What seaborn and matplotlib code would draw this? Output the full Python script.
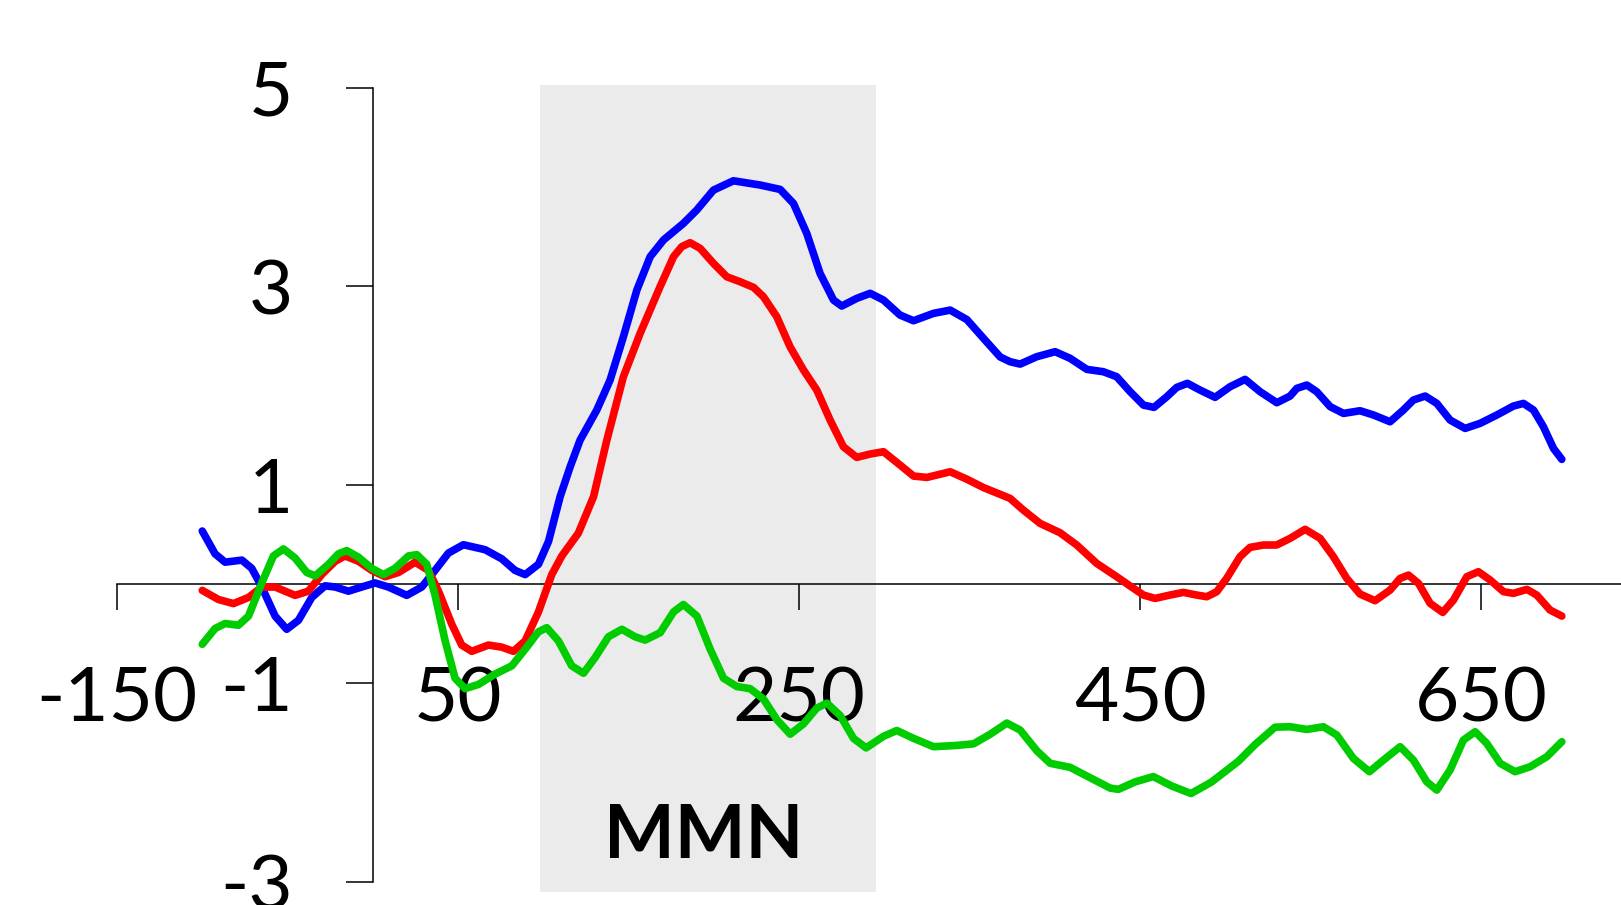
import matplotlib
matplotlib.use("Agg")
import matplotlib.pyplot as plt
import pandas as pd
import seaborn as sns

# ---------------- data ----------------
blue_t = [-100, -92.5, -86.6, -76.8, -71, -65.1, -57.3, -50.5, -43.6, -35.8,
          -28, -22.1, -14.3, -6.5, 1.3, 9.1, 19.9, 28.7, 36.5, 44.3,
          53.1, 65.8, 75.6, 83.4, 89.3, 97.1, 103, 109.8, 115.7, 121.5,
          131.3, 139.1, 146.9, 154.8, 162.6, 170.4, 182.1, 189.9, 199.7, 211.4,
          227.1, 238.8, 246.6, 254.4, 262.2, 270.1, 274.9, 283.7, 291.6, 299.4,
          309.1, 317, 328.7, 338.5, 348.3, 358, 367.8, 373.6, 379.5, 389.2,
          400, 408.8, 418.6, 428.3, 436.1, 444, 451.8, 458, 465.5, 471.3,
          477.6, 485, 493.8, 502.6, 511.4, 520.2, 530, 537.8, 541.7, 547.6,
          553.4, 561.3, 569.1, 578.8, 586.7, 596.4, 604.2, 610.1, 617, 623.8,
          631.6, 640.4, 649.2, 659, 668.7, 674.6, 680.5, 686.3, 692.2, 697.1]
blue_v = [0.535, 0.305, 0.221, 0.242, 0.159, -0.029, -0.322, -0.455, -0.364, -0.134,
          -0.017, -0.029, -0.071, -0.029, 0.012, -0.029, -0.113, -0.029, 0.139, 0.313,
          0.397, 0.347, 0.255, 0.138, 0.096, 0.200, 0.430, 0.881, 1.183, 1.451,
          1.754, 2.056, 2.493, 2.963, 3.299, 3.467, 3.635, 3.769, 3.970, 4.064,
          4.021, 3.977, 3.836, 3.534, 3.131, 2.862, 2.802, 2.879, 2.930, 2.862,
          2.711, 2.654, 2.728, 2.761, 2.665, 2.477, 2.289, 2.241, 2.217, 2.291,
          2.342, 2.275, 2.164, 2.140, 2.090, 1.939, 1.804, 1.781, 1.888, 1.982,
          2.023, 1.955, 1.882, 1.989, 2.063, 1.939, 1.828, 1.895, 1.972, 2.006,
          1.939, 1.788, 1.720, 1.747, 1.704, 1.636, 1.754, 1.855, 1.895, 1.821,
          1.653, 1.569, 1.620, 1.704, 1.794, 1.821, 1.754, 1.586, 1.368, 1.257]

red_t = [-100, -90.5, -81.7, -72.9, -65.1, -57.3, -45.6, -37.8, -30, -22.1,
         -16.3, -8.4, -0.6, 7.2, 15, 24.8, 32.6, 38.5, 46.3, 52.1,
         58, 67.8, 75.6, 82.4, 89.3, 97.1, 104.9, 110.8, 120.5, 129.4,
         137.2, 146.9, 156.7, 168.4, 176.3, 181.1, 186, 191.9, 199.7, 207.5,
         215.3, 223.2, 229, 236.8, 244.6, 252.5, 260.3, 268.1, 275.9, 283.7,
         291.6, 299.4, 309.1, 317, 324.8, 338.5, 348.3, 358, 373.6, 381.4,
         391.2, 402.9, 412.7, 424.4, 436.1, 444, 451.8, 458.6, 467.4, 475.2,
         483, 488.9, 494.8, 500.6, 508.4, 514.3, 522.1, 529.9, 537.8, 546.6,
         555.4, 563.2, 571, 578.8, 587.6, 596.4, 602.3, 607.2, 613.1, 619.9,
         627.3, 633.6, 641.4, 648.2, 655.1, 662.9, 668.7, 676.6, 682.4, 690.2,
         697.1]
red_v = [-0.063, -0.155, -0.196, -0.134, -0.029, -0.029, -0.113, -0.071, 0.096, 0.230,
         0.284, 0.230, 0.138, 0.075, 0.117, 0.221, 0.138, -0.071, -0.405, -0.614,
         -0.677, -0.614, -0.635, -0.677, -0.572, -0.280, 0.096, 0.284, 0.514, 0.881,
         1.451, 2.090, 2.526, 2.997, 3.299, 3.400, 3.440, 3.383, 3.232, 3.097,
         3.047, 2.990, 2.896, 2.695, 2.392, 2.157, 1.955, 1.653, 1.384, 1.277,
         1.311, 1.334, 1.200, 1.089, 1.075, 1.132, 1.057, 0.973, 0.864, 0.746,
         0.612, 0.518, 0.394, 0.209, 0.075, -0.019, -0.110, -0.144, -0.110, -0.083,
         -0.110, -0.127, -0.076, 0.058, 0.276, 0.370, 0.394, 0.394, 0.461, 0.552,
         0.461, 0.276, 0.058, -0.100, -0.167, -0.060, 0.058, 0.091, 0.007, -0.194,
         -0.285, -0.160, 0.075, 0.125, 0.041, -0.076, -0.093, -0.053, -0.110, -0.261,
         -0.322]

green_t = [-100, -92.5, -86.6, -78.8, -72.9, -65.1, -58.3, -52.4, -45.6, -38.7,
           -33.8, -26, -20.2, -15.3, -8.4, -0.6, 6.2, 13, 20.9, 25.8,
           31.6, 36.5, 42.4, 48.2, 54.1, 61.9, 71.7, 81.5, 89.3, 97.1,
           102, 108.8, 116.6, 123.5, 130.3, 138.1, 146, 153.8, 159.6, 168.5,
           176.3, 182.1, 190, 197.8, 205.6, 213.4, 221.2, 229, 236.9, 244.7,
           252.5, 260.3, 266.2, 274, 281.8, 289.2, 299.4, 307.2, 317, 328.7,
           342.4, 352.2, 362, 371.7, 379.5, 389.3, 397.1, 408.8, 420.6, 432.3,
           437.1, 446.9, 457.6, 468.4, 479.7, 491.8, 507.5, 517.2, 529, 537.8,
           547.6, 557.3, 565.2, 574.9, 584.3, 592.5, 602.3, 610.1, 617.9, 623.8,
           631.6, 639.4, 646.3, 653.1, 661, 669.7, 678.5, 688.3, 697.1]
green_v = [-0.606, -0.447, -0.397, -0.414, -0.322, 0.012, 0.284, 0.355, 0.263, 0.117,
           0.083, 0.200, 0.305, 0.338, 0.271, 0.159, 0.096, 0.159, 0.284, 0.297,
           0.200, -0.113, -0.572, -0.948, -1.053, -1.011, -0.906, -0.823, -0.656, -0.480,
           -0.439, -0.572, -0.823, -0.898, -0.740, -0.531, -0.455, -0.531, -0.564, -0.489,
           -0.280, -0.205, -0.322, -0.656, -0.948, -1.032, -1.053, -1.157, -1.366, -1.512,
           -1.408, -1.249, -1.199, -1.324, -1.554, -1.650, -1.533, -1.475, -1.554, -1.638,
           -1.625, -1.609, -1.512, -1.400, -1.470, -1.679, -1.805, -1.846, -1.951, -2.055,
           -2.068, -1.993, -1.939, -2.034, -2.110, -1.993, -1.784, -1.617, -1.441, -1.437,
           -1.464, -1.437, -1.521, -1.756, -1.890, -1.773, -1.638, -1.773, -1.991, -2.075,
           -1.873, -1.571, -1.487, -1.605, -1.806, -1.890, -1.840, -1.739, -1.588]

series_names = ["blue", "red", "green"]
series_colors = ["#0000FF", "#FF0000", "#00CC00"]
x_ticks = [-150, 50, 250, 450, 650]
x_tick_labels = ["-150", "50", "250", "450", "650"]
y_ticks = [-3, -1, 1, 3, 5]
y_tick_labels = ["-3", "-1", "1", "3", "5"]
mmn_window = (98, 295)
mmn_label = "MMN"

# ---------------- build table ----------------
frames = []
for name, t, v in zip(series_names, [blue_t, red_t, green_t], [blue_v, red_v, green_v]):
    n = min(len(t), len(v))
    frames.append(pd.DataFrame({"time": t[:n], "amp": v[:n], "cond": name}))
df = pd.concat(frames, ignore_index=True)

# ---------------- style ----------------
sns.set_style("white")
plt.rcParams["font.family"] = ["Lato", "DejaVu Sans"]

LINE_W = 5.5

W, H = 1621, 905
fig = plt.figure(figsize=(W / 100, H / 100), dpi=100)
ax_left, ax_right = 117, 1621
ax_top, ax_bot = 84.9, 891.8
ax = fig.add_axes([ax_left / W, (H - ax_bot) / H, (ax_right - ax_left) / W, (ax_bot - ax_top) / H])
ax.set_facecolor("white")

ax.axvspan(mmn_window[0], mmn_window[1], color="#EBEBEB", lw=0, zorder=0)

sns.lineplot(data=df, x="time", y="amp", hue="cond", hue_order=series_names,
             palette=dict(zip(series_names, series_colors)), estimator=None,
             legend=False, ax=ax, zorder=3, lw=LINE_W)
for ln in ax.get_lines():
    ln.set_linewidth(LINE_W)
    ln.set_solid_capstyle("round")
    ln.set_solid_joinstyle("round")

ax.set_xlim(-150, 731.8)
ax.set_ylim(-3.10, 5.03)

for s in ["top", "right"]:
    ax.spines[s].set_visible(False)
ax.spines["left"].set_position(("data", 0))
ax.spines["bottom"].set_position(("data", 0))
ax.spines["left"].set_bounds(-3, 5)
for s in ["left", "bottom"]:
    ax.spines[s].set_color("black")
    ax.spines[s].set_linewidth(1.1)
    ax.spines[s].set_zorder(2)

ax.set_xticks(x_ticks)
ax.set_xticklabels(x_tick_labels)
ax.set_yticks(y_ticks)
ax.set_yticklabels(y_tick_labels)
ax.tick_params(axis="x", direction="out", length=18.7, width=1.1, pad=40,
               labelsize=55, colors="black", bottom=True)
ax.tick_params(axis="y", direction="out", length=19.4, width=1.1, pad=38,
               labelsize=55, colors="black", left=True)
ax.set_xlabel("")
ax.set_ylabel("")
ax.grid(False)

ax.text(sum(mmn_window) / 2 - 2.5, -2.76, mmn_label, ha="center", va="baseline",
        fontsize=54, fontweight="bold", color="black", zorder=4)

fig.savefig("out.png", dpi=100, facecolor="white")
